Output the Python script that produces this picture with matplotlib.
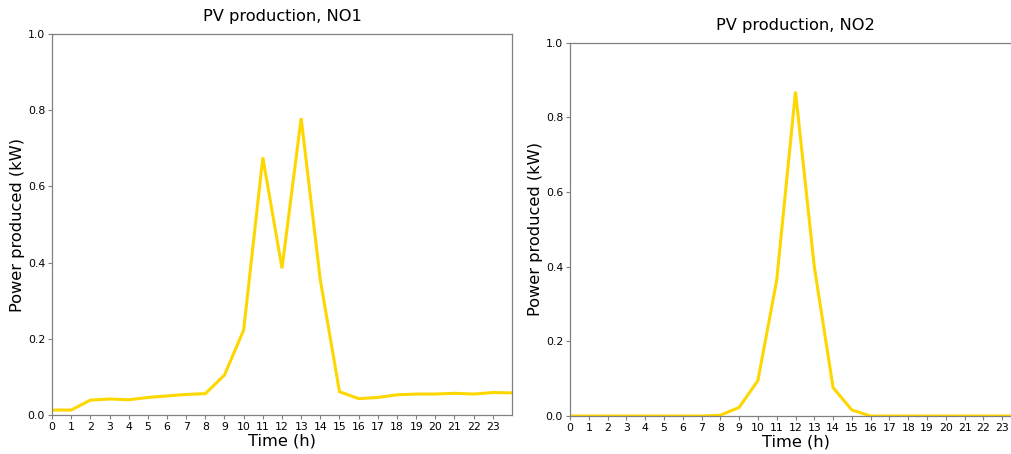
import matplotlib
matplotlib.use("Agg")
import matplotlib.pyplot as plt
import numpy as np

# Hourly PV output (kW), hours 0..24
hours = list(range(25))
pv_no1 = [0.013, 0.013, 0.039, 0.042, 0.040, 0.046, 0.050, 0.054, 0.056,
          0.105, 0.223, 0.676, 0.385, 0.779, 0.354, 0.061, 0.043, 0.046,
          0.053, 0.055, 0.055, 0.057, 0.055, 0.059, 0.058]
pv_no2 = [0.0, 0.0, 0.0, 0.0, 0.0, 0.0, 0.0, 0.0, 0.002,
          0.023, 0.095, 0.364, 0.869, 0.400, 0.076, 0.016, 0.0, 0.0,
          0.0, 0.0, 0.0, 0.0, 0.0, 0.0, 0.0]
tick_hours = list(range(24))
panels = [("PV production, NO1", pv_no1), ("PV production, NO2", pv_no2)]

W, H = 1011, 454
fig = plt.figure(figsize=(W / 100, H / 100), dpi=100)

# axes rectangles in pixels: left, top, width, height
rects = [(52, 34, 460, 381), (570, 42.7, 451, 373.3)]

line_color = "#FFD700"
spine_color = "#808080"

for (title, values), (lx, ty, w, h) in zip(panels, rects):
    ax = fig.add_axes([lx / W, (H - ty - h) / H, w / W, h / H])
    ax.plot(hours, values, color=line_color, lw=2.2, solid_joinstyle="miter")
    ax.set_xlim(0, 24)
    ax.set_ylim(0, 1.0)
    ax.set_xticks(tick_hours)
    ax.set_yticks([0.0, 0.2, 0.4, 0.6, 0.8, 1.0])
    ax.tick_params(labelsize=7.8, color=spine_color, length=3, width=0.8, pad=2)
    for s in ax.spines.values():
        s.set_color(spine_color)
        s.set_linewidth(0.9)
    ax.set_title(title, fontsize=11.7, pad=9.5)
    ax.set_xlabel("Time (h)", fontsize=11.7, labelpad=1)
    ax.set_ylabel("Power produced (kW)", fontsize=11.7, labelpad=2)

fig.savefig("out.png", dpi=100)
